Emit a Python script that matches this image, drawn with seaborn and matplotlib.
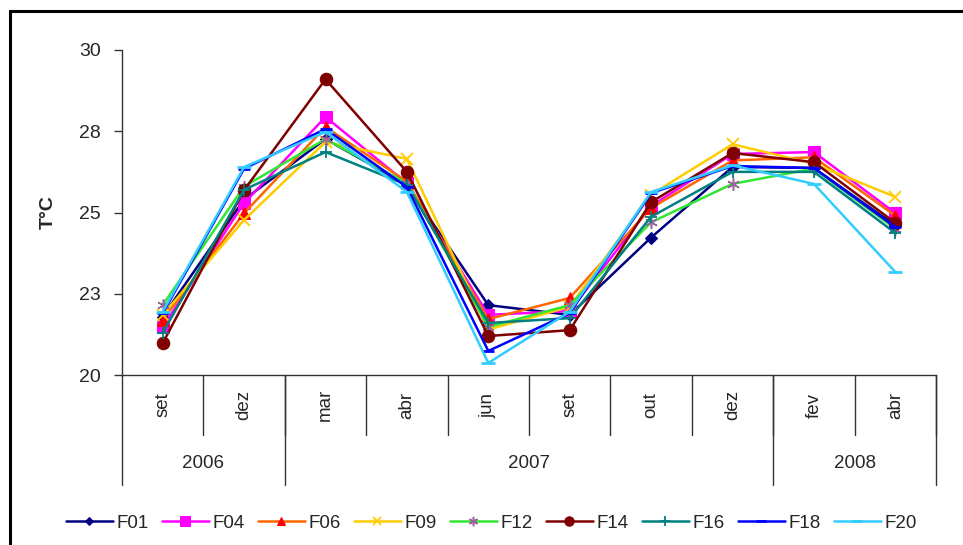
import matplotlib
matplotlib.use("Agg")
import matplotlib.pyplot as plt
from matplotlib.patches import Rectangle
import matplotlib.transforms as mtransforms
import seaborn as sns

sns.set_style("white")
plt.rcParams["font.family"] = ["Liberation Sans", "DejaVu Sans"]
NARROW = ["Liberation Sans Narrow", "Liberation Sans", "DejaVu Sans"]

# Sampling months and years
months = ["set", "dez", "mar", "abr", "jun", "set", "out", "dez", "fev", "abr"]
years = ["2006", "2007", "2008"]
year_spans = [2, 6, 2]

# Water temperature (°C) per station
F01 = [21.8, 25.4, 27.26, 25.85, 22.15, 21.85, 24.23, 26.4, 26.37, 24.6]
F04 = [21.48, 25.29, 27.94, 25.9, 21.85, 21.97, 25.2, 26.8, 26.86, 24.98]
F06 = [21.7, 24.98, 27.63, 25.95, 21.72, 22.37, 25.14, 26.6, 26.7, 24.9]
F09 = [21.85, 24.77, 27.17, 26.65, 21.4, 22.1, 25.55, 27.1, 26.5, 25.48]
F12 = [22.15, 25.8, 27.26, 25.9, 21.48, 22.15, 24.7, 25.88, 26.35, 24.5]
F14 = [20.98, 25.69, 29.1, 26.25, 21.2, 21.38, 25.32, 26.83, 26.55, 24.68]
F16 = [21.3, 25.7, 26.86, 25.85, 21.6, 21.75, 24.87, 26.25, 26.25, 24.37]
F18 = [21.9, 26.35, 27.57, 25.78, 20.74, 21.9, 25.6, 26.43, 26.37, 24.55]
F20 = [21.95, 26.4, 27.48, 25.63, 20.37, 21.95, 25.63, 26.45, 25.88, 23.17]

y_ticks = [20, 22.5, 25, 27.5, 30]
y_tick_labels = ["20", "23", "25", "28", "30"]

series = [
    ("F01", F01, dict(color="#000080", marker="D", ms=6, mfc="#000080", mec="#000080")),
    ("F04", F04, dict(color="#FF00FF", marker="s", ms=9, mfc="#FF00FF", mec="#FF00FF")),
    ("F06", F06, dict(color="#FF6600", marker="^", ms=8, mfc="#FF0000", mec="#FF0000")),
    ("F09", F09, dict(color="#FFCC00", marker="x", ms=8, mfc="#FFCC00", mec="#FFCC00", mew=1.3)),
    ("F12", F12, dict(color="#33E633", marker=(6, 2, 0), ms=9, mfc="#996699", mec="#996699", mew=1.1)),
    ("F14", F14, dict(color="#800000", marker="o", ms=9, mfc="#800000", mec="#800000")),
    ("F16", F16, dict(color="#008080", marker="+", ms=9, mfc="#008080", mec="#008080", mew=1.3)),
    ("F18", F18, dict(color="#0000FF", marker="_", ms=9, mfc="#0000FF", mec="#0000FF", mew=2)),
    ("F20", F20, dict(color="#33CCFF", marker="_", ms=10, mfc="#33CCFF", mec="#33CCFF", mew=2)),
]

W, H = 963, 545
fig = plt.figure(figsize=(W / 100, H / 100), dpi=100)
ax = fig.add_axes([122 / W, 1 - 375 / H, (936 - 122) / W, (375 - 50) / H])

x = list(range(len(months)))
for name, vals, st in series:
    sns.lineplot(x=x, y=vals, ax=ax, label=name, lw=1.8, clip_on=False, **st)

ax.set_xlim(-0.5, len(months) - 0.5)
ax.set_ylim(20, 30)
ax.set_yticks(y_ticks)
ax.set_yticklabels(y_tick_labels, fontsize=14)
ax.set_xticks([])
ax.tick_params(axis="y", direction="out", length=6, width=1, color="#333333", pad=9, left=True)
for s in ["top", "right"]:
    ax.spines[s].set_visible(False)
for s in ["left", "bottom"]:
    ax.spines[s].set_color("#333333")
    ax.spines[s].set_linewidth(1)
ax.set_ylabel("T°C", fontsize=14, fontweight="bold", labelpad=16)
ax.get_legend().remove()

# Two-level category axis below the plot
trans = mtransforms.blended_transform_factory(ax.transData, ax.transAxes)
month_row = -60 / 325
year_row = -110 / 325
line_kw = dict(color="#333333", lw=1, clip_on=False, transform=trans)
for i, m in enumerate(months):
    ax.text(i, -30 / 325, m, rotation=90, ha="center", va="center", fontsize=13.5,
            transform=trans)
    ax.plot([i + 0.5, i + 0.5], [0, month_row], **line_kw)

start = 0
bounds = [-0.5]
for yr, span in zip(years, year_spans):
    ax.text(start + span / 2 - 0.5, -88 / 325, yr, ha="center", va="center",
            fontsize=13.5, family=NARROW, transform=trans)
    start += span
    bounds.append(start - 0.5)
for b in bounds:
    ax.plot([b, b], [0, year_row], **line_kw)

handles, labels = ax.get_legend_handles_labels()
fig.legend(handles, labels, loc="center", bbox_to_anchor=(0.51, 1 - 523 / H), ncol=9,
           frameon=False, handlelength=2.5, handletextpad=0.2, markerscale=0.75,
           columnspacing=0.7, prop={"family": NARROW, "size": 13.5})

# Chart frame
fig.patches.append(Rectangle((10 / W, -0.2), 1.2, 1.2 - 11 / H, transform=fig.transFigure,
                             fill=False, edgecolor="black", lw=2.2))

fig.savefig("out.png", dpi=100)
